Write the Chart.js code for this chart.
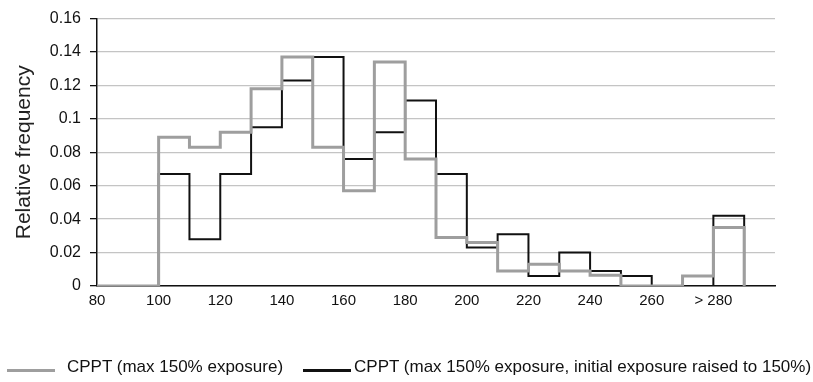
<html lang="en">
<head>
    <meta charset="UTF-8">
    <title>Relative frequency</title>
    <script src="https://cdn.jsdelivr.net/npm/chart.js"></script>
    <style>
        body {
            margin: 0;
            background: #ffffff;
        }
        .wrap {
            position: relative;
            width: 813px;
            height: 382px;
        }
        .legend {
            position: absolute;
            left: 7px;
            top: 357px;
            display: flex;
            align-items: center;
            font-family: "Liberation Sans", Arial, sans-serif;
            font-size: 17px;
            color: #111;
            white-space: nowrap;
        }
        .legend .swatch {
            display: inline-block;
            width: 48px;
            height: 3px;
            margin-top: 6px;
        }
    </style>
</head>
<body>
    <div class="wrap">
        <canvas id="chart" width="813" height="382"></canvas>
        <div class="legend" id="legend"></div>
    </div>
    <script>
        // left edge of each bin; the last entry closes the final bin
        const binStarts = [80, 90, 100, 110, 120, 130, 140, 150, 160, 170, 180, 190, 200, 210, 220, 230, 240, 250, 260, 270, 280, 290];
        const grayValues = [0, 0, 0.089, 0.083, 0.092, 0.118, 0.137, 0.083, 0.057, 0.134, 0.076, 0.029, 0.026, 0.009, 0.013, 0.009, 0.0065, 0, 0, 0.006, 0.035, 0];
        const blackValues = [0, 0, 0.067, 0.028, 0.067, 0.095, 0.123, 0.137, 0.076, 0.092, 0.111, 0.067, 0.023, 0.031, 0.006, 0.020, 0.009, 0.006, 0, 0, 0.042, 0];
        const tickLabels = {80: "80", 100: "100", 120: "120", 140: "140", 160: "160", 180: "180", 200: "200", 220: "220", 240: "240", 260: "260", 280: "> 280", 300: ""};
        const seriesNames = ["CPPT (max 150% exposure)", "CPPT (max 150% exposure, initial exposure raised to 150%)"];
        const seriesColors = ["#9e9e9e", "#111111"];

        const toPoints = vals => binStarts.map((x, i) => ({x: x, y: vals[i]}));
        const font = "Liberation Sans, Arial, sans-serif";

        // legend drawn as html so the spacing can follow the original
        const legend = document.getElementById("legend");
        seriesNames.forEach((name, i) => {
            const sw = document.createElement("span");
            sw.className = "swatch";
            sw.style.background = seriesColors[i];
            sw.style.marginLeft = i === 0 ? "0px" : "20px";
            sw.style.marginRight = i === 0 ? "12px" : "3px";
            const txt = document.createElement("span");
            txt.textContent = name;
            legend.appendChild(sw);
            legend.appendChild(txt);
        });

        new Chart(document.getElementById("chart"), {
            type: "line",
            data: {
                datasets: [{
                    label: seriesNames[0],
                    data: toPoints(grayValues),
                    borderColor: seriesColors[0],
                    borderWidth: 3,
                    stepped: "before",
                    pointRadius: 0
                }, {
                    label: seriesNames[1],
                    data: toPoints(blackValues),
                    borderColor: seriesColors[1],
                    borderWidth: 2,
                    stepped: "before",
                    pointRadius: 0
                }]
            },
            options: {
                responsive: false,
                animation: false,
                layout: {padding: {top: 16, right: 38, bottom: 66, left: 0}},
                plugins: {
                    tooltip: {enabled: false},
                    legend: {display: false}
                },
                scales: {
                    x: {
                        type: "linear",
                        min: 80,
                        max: 300,
                        afterBuildTicks: s => {
                            s.ticks = Object.keys(tickLabels).map(v => ({value: Number(v)}));
                        },
                        afterFit: s => { s.height = 30; },
                        grid: {display: false, drawOnChartArea: false, drawTicks: true, tickLength: 6, tickColor: "#111", tickWidth: 1.5},
                        border: {color: "#111", width: 1.5},
                        ticks: {
                            autoSkip: false,
                            maxRotation: 0,
                            padding: 0,
                            color: "#111",
                            font: {family: font, size: 15},
                            callback: v => tickLabels[v]
                        }
                    },
                    y: {
                        min: 0,
                        max: 0.16,
                        afterFit: s => { s.width = 97; },
                        ticks: {
                            stepSize: 0.02,
                            color: "#111",
                            padding: 9,
                            font: {family: font, size: 16},
                            callback: v => Number(v.toFixed(2)).toString()
                        },
                        grid: {color: "#c4c4c4", lineWidth: 1.3, tickLength: 7, tickColor: "#111"},
                        border: {color: "#111", width: 1.5},
                        title: {
                            display: true,
                            text: "Relative frequency",
                            color: "#222",
                            padding: {top: 12, bottom: 0},
                            font: {family: font, size: 21}
                        }
                    }
                }
            }
        });
    </script>
</body>
</html>
